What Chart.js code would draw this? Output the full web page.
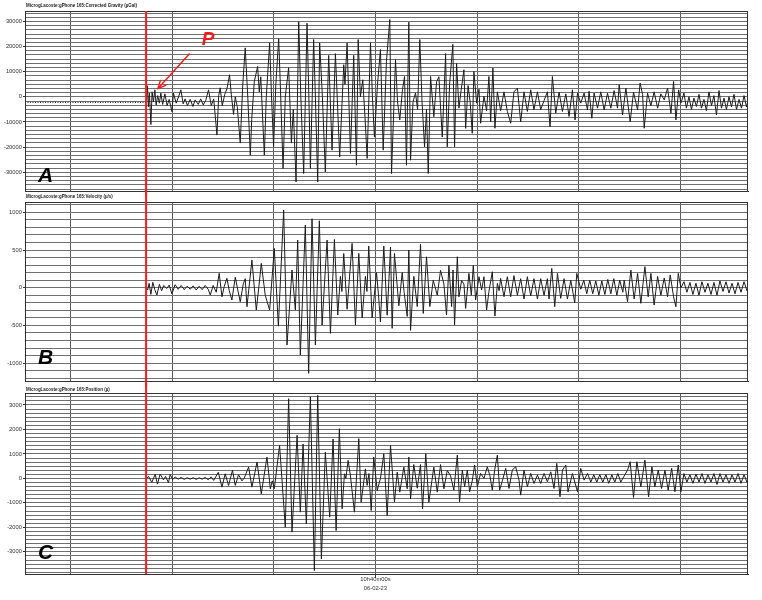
<!DOCTYPE html>
<html><head><meta charset="utf-8">
<script src="https://cdn.jsdelivr.net/npm/chart.js@4/dist/chart.umd.min.js"></script>
<style>
html,body{margin:0;padding:0;background:#fff;}
#wrap{position:relative;width:762px;height:600px;overflow:hidden;}
canvas{position:absolute;left:0;}
</style></head><body>
<div id="wrap">
<canvas id="cA" width="762" height="196" style="top:0px"></canvas>
<canvas id="cB" width="762" height="196" style="top:190px"></canvas>
<canvas id="cC" width="762" height="217" style="top:383px"></canvas>
</div>
<script>
// ---- labels ----
const titles = [
  'MicrogLacoste:gPhone 165:Corrected Gravity (\u00b5Gal)',
  'MicrogLacoste:gPhone 165:Velocity (\u00b5/s)',
  'MicrogLacoste:gPhone 165:Position (\u00b5)'
];
const letters = ['A', 'B', 'C'];
const timeTicks = [-30, -20, -10, 0, 10, 20, 30];     // seconds from 10h40m00s
const timeLabel = ['10h40m00s', '06-02-23'];
const timeMin = -34.47, timeMax = 36.64;
const pTime = -22.56;                                  // P arrival (red line)
const pLabelAt = [-17.09, 20540];
const arrowFrom = [-18.27, 17240];
const arrowTo = [-21.39, 3340];

// ---- A: corrected gravity (µGal) ----
const preT = [-34.47, -22.51];
const preV = [-2200, -2200];
const tA = [-22.51,-22.43,-22.33,-22.23,-22.09,-21.97,-21.84,-21.70,-21.57,-21.42,-21.25,-21.11,-20.93,-20.71,-20.49,-20.29,-20.02,-19.87,-19.60,-19.37,-19.14,-18.91,-18.72,-18.49,-18.22,-17.96,-17.73,-17.43,-17.19,-16.94,-16.70,-16.42,-16.15,-15.91,-15.59,-15.42,-15.27,-15.07,-14.82,-14.61,-14.35,-14.18,-13.96,-13.79,-13.59,-13.30,-13.05,-12.81,-12.56,-12.31,-12.17,-11.92,-11.59,-11.43,-11.28,-10.93,-10.74,-10.41,-10.24,-10.02,-9.80,-9.52,-9.36,-9.09,-8.87,-8.54,-8.27,-8.08,-7.81,-7.55,-7.34,-7.06,-6.73,-6.55,-6.40,-6.08,-5.91,-5.68,-5.49,-5.22,-4.93,-4.60,-4.27,-3.94,-3.52,-3.12,-3.00,-2.79,-2.46,-2.14,-1.87,-1.70,-1.48,-1.25,-1.03,-0.82,-0.49,-0.30,-0.10,0.20,0.49,0.76,1.08,1.41,1.58,1.97,2.17,2.39,2.66,2.86,3.05,3.28,3.45,3.69,3.94,4.14,4.36,4.58,4.83,5.02,5.19,5.42,5.74,6.01,6.24,6.40,6.57,6.90,7.06,7.29,7.61,7.78,7.98,8.21,8.42,8.70,8.87,9.11,9.31,9.52,9.68,9.95,10.18,10.34,10.67,10.93,11.16,11.33,11.55,11.75,11.99,12.31,12.64,12.97,13.30,13.62,13.96,14.28,14.61,14.94,15.27,15.59,15.93,16.25,16.58,16.91,17.17,17.40,17.73,18.06,18.39,18.72,19.04,19.37,19.63,19.87,20.19,20.52,20.85,21.01,21.28,21.50,21.84,22.16,22.49,22.82,23.15,23.47,23.81,23.97,24.30,24.63,25.05,25.38,25.78,26.03,26.27,26.43,26.76,27.09,27.41,27.75,28.07,28.40,28.73,29.06,29.32,29.55,29.82,30.04,30.34,30.58,30.83,31.08,31.32,31.57,31.82,32.06,32.31,32.55,32.80,33.05,33.29,33.54,33.79,34.03,34.28,34.52,34.77,35.02,35.26,35.51,35.76,36.00,36.25,36.49,36.64];
const vA = [-2200,4400,-3900,1500,-11000,2000,-2000,2800,-3200,500,-2500,1500,-3000,1200,-3500,-1000,-5900,1500,-2500,0,2800,-2800,-800,-3500,-1000,-3800,-1200,-3000,-800,-3200,-1500,2800,-3500,-800,-15200,500,3600,-3500,1000,3200,8800,1000,-7000,0,-4000,-18400,5000,19500,0,-23200,-9000,6000,12100,2000,8000,-23200,0,21500,2000,-19900,5000,23100,5000,-28500,0,11600,-18400,-5000,-33900,29900,0,-30500,29300,0,-28500,22800,0,-33900,21500,0,-29900,16500,-21200,17200,-23900,12800,5000,21500,-22500,16500,-27200,22800,0,6800,-8000,-24500,21500,0,-16000,5000,18800,-21200,14100,30800,-30500,14800,-2000,-9200,3000,8100,-27200,29700,-25200,-2000,1600,-5000,22800,-2000,-19900,-5000,-30500,8100,-7900,6000,8000,-4000,-16000,17200,-19900,5000,20900,-19900,13300,-4500,2500,10800,-12500,4500,-2000,-14500,10100,-2500,3000,-10500,300,-5500,8100,-9900,11500,-12500,2000,-5500,2000,-5800,-10500,2000,3500,-10000,2000,-5800,2800,-5100,2000,-5100,-1500,2000,-11900,8100,-6500,1900,-5800,1200,-7800,2800,-9200,1500,-2500,1500,-5200,2200,-8500,1500,-4500,2000,-5200,1500,-4500,2500,-4500,4900,-7200,3500,-9900,1900,-5200,5500,1000,-12500,1500,-3500,2000,-4500,1200,-1200,3500,-6500,6100,-9200,2800,-2500,1500,-4500,0,-5000,-500,-3800,1000,-4500,-1000,-5500,2000,-3500,500,-7200,2500,-4500,-500,-5000,0,-4000,1000,-5000,-1000,-4500,500,-4000,-1500];

// ---- B: velocity (µ/s) ----
const tB = [-22.51,-22.41,-22.26,-22.09,-21.90,-21.72,-21.50,-21.25,-21.03,-20.83,-20.52,-20.29,-20.02,-19.70,-19.40,-19.11,-18.81,-18.52,-18.22,-17.93,-17.63,-17.34,-17.04,-16.75,-16.45,-16.25,-15.96,-15.66,-15.37,-15.10,-14.87,-14.61,-14.38,-14.12,-13.79,-13.54,-13.30,-13.00,-12.81,-12.64,-12.15,-11.72,-11.48,-11.23,-10.84,-10.41,-9.95,-9.55,-9.03,-8.70,-8.21,-7.88,-7.65,-7.39,-6.90,-6.57,-6.24,-5.91,-5.52,-5.25,-4.76,-4.43,-4.04,-3.71,-3.45,-3.30,-3.12,-2.79,-2.30,-1.97,-1.64,-1.31,-0.99,-0.84,-0.66,-0.33,0.10,0.30,0.49,0.82,1.15,1.48,1.64,1.87,2.30,2.63,2.81,3.12,3.28,3.45,3.77,4.11,4.43,4.70,5.02,5.35,5.68,6.08,6.40,6.73,6.99,7.22,7.49,7.63,7.78,8.05,8.21,8.47,8.70,8.87,9.19,9.43,9.62,9.85,10.18,10.44,10.67,10.93,11.16,11.49,11.75,11.99,12.16,12.31,12.64,12.97,13.30,13.62,13.96,14.28,14.61,14.94,15.27,15.59,15.93,16.25,16.58,16.91,17.07,17.34,17.63,17.90,18.22,18.55,18.88,19.21,19.60,19.80,20.19,20.49,20.78,21.08,21.37,21.67,21.97,22.26,22.56,22.85,23.15,23.44,23.74,24.03,24.33,24.46,24.79,25.12,25.44,25.78,26.10,26.50,26.82,27.09,27.41,27.75,28.07,28.40,28.73,28.99,29.32,29.55,29.78,30.04,30.34,30.63,30.93,31.22,31.52,31.82,32.11,32.41,32.70,33.00,33.29,33.59,33.88,34.18,34.48,34.77,35.07,35.36,35.66,35.95,36.25,36.54,36.64];
const vB = [0,-30,58,-88,72,-20,-97,45,-40,30,-10,35,-80,40,-20,30,-25,20,-20,25,-30,20,-25,30,-20,-97,30,-60,191,-120,20,125,-40,-163,139,-30,-186,50,120,-252,367,-296,0,323,-100,-296,522,-510,1030,-760,235,-296,632,-892,831,-1135,915,-760,888,-495,632,-605,640,-362,150,-50,455,-285,587,-495,455,-400,150,-50,554,-400,200,-100,-455,554,-365,541,-539,455,-240,200,-50,-380,500,-566,150,-250,575,-341,410,-250,100,-100,230,50,-362,300,-250,235,-495,411,-120,95,50,-274,190,-100,296,-163,146,-30,146,-296,-50,212,-375,58,-40,124,-119,146,-120,160,-100,120,-150,146,-110,120,-150,120,-100,120,-150,256,-252,190,-141,120,-150,100,-200,190,-20,100,-80,100,-80,90,-100,90,-90,110,-80,120,-100,100,-60,100,-186,234,-150,190,-207,279,-120,190,-230,150,-100,130,-120,170,-120,-252,190,0,80,-60,70,-90,60,-100,80,-60,60,-90,70,-100,90,-50,80,-70,60,-80,70,-60,80,-40,20];

// ---- C: position (µ) ----
const tC = [-22.51,-22.31,-22.00,-21.67,-21.44,-21.18,-20.85,-20.64,-20.36,-20.19,-19.95,-19.70,-19.40,-19.11,-18.81,-18.52,-18.22,-17.93,-17.63,-17.34,-17.04,-16.75,-16.45,-16.15,-15.91,-15.46,-15.10,-14.78,-14.45,-14.06,-13.79,-13.47,-13.13,-12.90,-12.48,-12.15,-11.65,-11.23,-10.67,-10.34,-10.15,-9.95,-9.43,-8.87,-8.54,-8.21,-7.71,-7.39,-7.12,-6.80,-6.40,-6.01,-5.68,-5.32,-4.93,-4.50,-4.17,-3.87,-3.55,-3.28,-3.05,-2.91,-2.69,-2.46,-2.07,-1.64,-1.41,-0.99,-0.82,-0.64,-0.42,-0.17,0.17,0.49,0.82,1.15,1.48,1.87,2.14,2.39,2.79,3.12,3.28,3.45,3.77,4.11,4.43,4.63,4.95,5.25,5.74,6.08,6.40,6.73,7.06,7.39,7.71,8.05,8.27,8.54,8.77,9.03,9.26,9.52,9.75,10.02,10.34,10.67,11.00,11.26,11.49,11.72,11.99,12.21,12.48,12.81,13.13,13.46,13.79,14.12,14.28,14.61,14.94,15.27,15.59,15.93,16.25,16.58,16.91,17.24,17.56,17.83,18.15,18.39,18.72,18.94,19.37,19.87,20.19,20.52,20.85,21.18,21.47,21.77,22.06,22.36,22.66,22.95,23.25,23.54,23.84,24.13,24.46,24.79,25.05,25.38,25.71,26.10,26.50,26.86,27.19,27.48,27.81,28.14,28.47,28.79,29.13,29.45,29.78,30.04,30.34,30.63,30.93,31.22,31.52,31.82,32.11,32.41,32.70,33.00,33.29,33.59,33.88,34.18,34.48,34.77,35.07,35.36,35.66,35.95,36.25,36.54,36.64];
const vC = [0,80,-164,164,-233,180,-60,80,-175,160,-50,60,-30,40,-40,30,-30,30,-40,25,-30,40,-50,60,-80,250,-355,190,-287,330,-287,150,-100,20,464,-355,670,-628,873,-425,-100,-420,1350,-1993,3258,-2196,1760,-1378,1405,-1856,3327,-3766,3395,-3290,1075,-1583,1610,-2130,2029,-1242,190,0,737,100,-1378,1624,-970,393,-287,200,-1310,873,-491,0,1010,-1515,1351,-969,259,-560,464,-423,873,-833,566,-400,566,-1242,1010,-970,464,-560,566,-423,327,100,-477,955,-955,340,-341,340,-545,-100,545,-341,205,0,477,100,-477,340,955,-477,-100,410,-410,340,477,-70,-682,340,-341,205,-205,136,-205,205,-136,270,-410,614,-750,340,545,-545,200,-545,410,-70,205,-150,150,-150,150,-150,150,-200,150,-150,200,-150,100,340,682,-777,682,-341,750,-750,477,-341,340,-410,340,-477,410,-545,545,-545,200,-150,150,-200,180,-150,200,-200,150,-150,200,-250,200,-150,150,-200,150,-150,200,-200,150,-150,50];

const FONT = '"Liberation Sans", Arial, sans-serif';

const deco = {
  id: 'deco',
  afterDatasetsDraw(chart, args, o) {
    const {ctx, chartArea: a, scales: {x, y}} = chart;
    ctx.save();
    // frame
    ctx.strokeStyle = '#333'; ctx.lineWidth = 1;
    ctx.strokeRect(Math.round(a.left) + 0.5, Math.round(a.top) + 0.5, Math.round(a.right - a.left) - 1, Math.round(a.bottom - a.top));
    // title
    ctx.fillStyle = '#1a1a1a';
    ctx.font = 'bold 5.5px ' + FONT;
    ctx.textBaseline = 'middle'; ctx.textAlign = 'left';
    const w = ctx.measureText(o.title).width;
    ctx.fillText(o.title, a.left + 1, o.titleY, w * 0.81);
    // panel letter
    ctx.font = 'bold italic 21px ' + FONT;
    ctx.textBaseline = 'alphabetic';
    ctx.fillStyle = '#000';
    ctx.fillText(o.letter, a.left + 13, a.bottom - o.letterGap);
    // P arrival red line
    const px = x.getPixelForValue(pTime);
    ctx.strokeStyle = '#ff1a1a'; ctx.lineWidth = 2;
    ctx.beginPath();
    ctx.moveTo(px, o.redFromArea ? a.top : 0);
    ctx.lineTo(px, o.redToArea ? a.bottom : chart.height);
    ctx.stroke();
    if (o.pMark) {
      const sx = x.getPixelForValue(arrowFrom[0]), sy = y.getPixelForValue(arrowFrom[1]);
      const ex = x.getPixelForValue(arrowTo[0]), ey = y.getPixelForValue(arrowTo[1]);
      ctx.strokeStyle = '#f01818'; ctx.lineWidth = 1.4;
      ctx.beginPath(); ctx.moveTo(sx, sy); ctx.lineTo(ex, ey); ctx.stroke();
      const ang = Math.atan2(ey - sy, ex - sx);
      ctx.beginPath();
      ctx.moveTo(ex - 9 * Math.cos(ang - 0.45), ey - 9 * Math.sin(ang - 0.45));
      ctx.lineTo(ex, ey);
      ctx.lineTo(ex - 9 * Math.cos(ang + 0.45), ey - 9 * Math.sin(ang + 0.45));
      ctx.stroke();
      ctx.fillStyle = '#ee1c1c';
      ctx.font = 'bold italic 19px ' + FONT;
      ctx.fillText('P', x.getPixelForValue(pLabelAt[0]), y.getPixelForValue(pLabelAt[1]));
    }
    ctx.restore();
  }
};

function makeChart(id, cfg) {
  const step = cfg.step, lab = cfg.labelEvery;
  const isLab = v => Math.abs(v / lab - Math.round(v / lab)) < 1e-6;
  const datasets = cfg.series.map(s => ({
    data: s.t.map((t, i) => ({x: t, y: s.v[i]})),
    borderColor: '#1c1c1c', borderWidth: 1, pointRadius: 0, tension: 0,
    borderDash: s.dash || [], fill: false
  }));
  return new Chart(document.getElementById(id), {
    type: 'line',
    data: {datasets},
    plugins: [deco],
    options: {
      responsive: false, animation: false, devicePixelRatio: 1,
      layout: {padding: {left: 0, right: 14, top: cfg.padTop, bottom: cfg.padBottom}},
      plugins: {
        legend: {display: false}, tooltip: {enabled: false},
        deco: {title: cfg.title, titleY: cfg.titleY, letter: cfg.letter, letterGap: cfg.letterGap,
               redFromArea: cfg.redFromArea, redToArea: cfg.redToArea, pMark: cfg.pMark}
      },
      scales: {
        x: {
          type: 'linear', min: timeMin, max: timeMax,
          afterBuildTicks: s => { s.ticks = timeTicks.map(v => ({value: v})); },
          afterFit: s => { s.height = cfg.xHeight; },
          ticks: {display: cfg.showTime, autoSkip: false, maxRotation: 0, padding: -3,
                  font: {size: 5.8, family: FONT, lineHeight: 1.5}, color: '#333',
                  callback: v => (v === 0 ? timeLabel : '')},
          grid: {color: '#5a5a5a', lineWidth: 1, drawTicks: cfg.showTime, tickLength: 4,
                 tickColor: c => (c.tick && c.tick.value === 0 ? '#333' : 'rgba(0,0,0,0)')},
          border: {color: '#333'}
        },
        y: {
          min: cfg.min, max: cfg.max,
          afterBuildTicks: s => {
            const arr = [];
            for (let k = Math.ceil(cfg.min / step - 1e-9); k * step <= cfg.max + 1e-9; k++) arr.push({value: k * step});
            s.ticks = arr;
          },
          afterFit: s => { s.width = 25; },
          ticks: {autoSkip: false, padding: 1, font: {size: 5.8, family: FONT, lineHeight: 1}, color: '#333',
                  callback: v => (isLab(v) ? String(Math.round(v)) : '')},
          grid: {color: '#707070', lineWidth: 1, tickLength: 2,
                 tickColor: c => (c.tick && isLab(c.tick.value) ? '#333' : 'rgba(0,0,0,0)')},
          border: {color: '#333'}
        }
      }
    }
  });
}

makeChart('cA', {title: titles[0], titleY: 5, letter: letters[0], letterGap: 9,
  min: -37460, max: 34170, step: 10000 / 6, labelEvery: 10000,
  padTop: 11, padBottom: 5, xHeight: 0, showTime: false,
  redFromArea: true, redToArea: false, pMark: true,
  series: [{t: preT, v: preV, dash: [1, 1.5]}, {t: tA, v: vA}]});

makeChart('cB', {title: titles[1], titleY: 6.7, letter: letters[1], letterGap: 17,
  min: -1237, max: 1137, step: 100, labelEvery: 500,
  padTop: 12, padBottom: 5, xHeight: 0, showTime: false,
  redFromArea: false, redToArea: false, pMark: false,
  series: [{t: tB, v: vB}]});

makeChart('cC', {title: titles[2], titleY: 6, letter: letters[2], letterGap: 15,
  min: -3905, max: 3490, step: 1000 / 6, labelEvery: 1000,
  padTop: 10, padBottom: 0, xHeight: 26, showTime: true,
  redFromArea: false, redToArea: true, pMark: false,
  series: [{t: tC, v: vC}]});
</script>
</body></html>
